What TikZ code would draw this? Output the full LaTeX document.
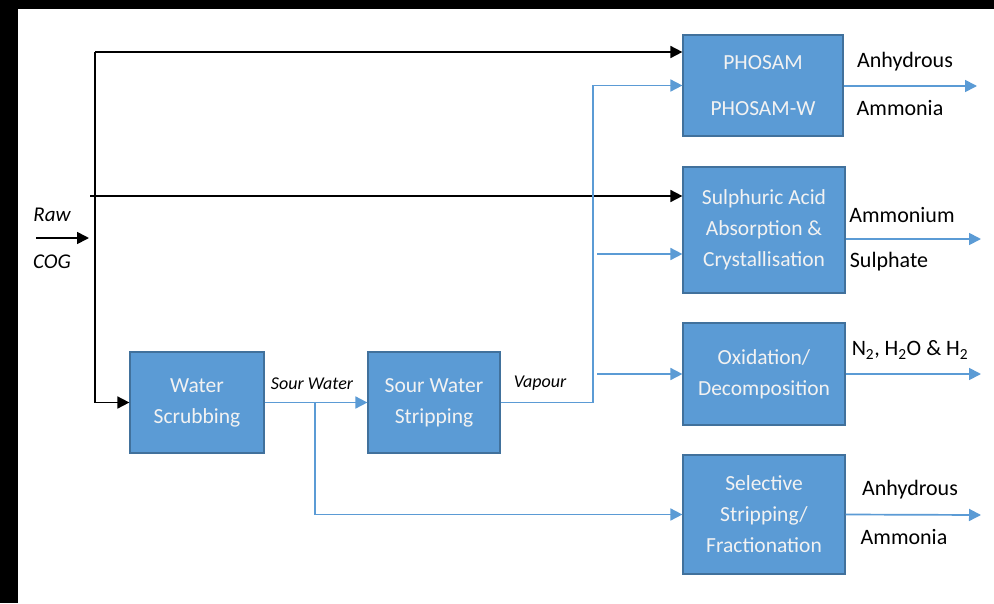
\documentclass[tikz,border=0pt]{standalone}
\usepackage{fontspec}
\setmainfont{Carlito}
\usetikzlibrary{arrows.meta}
\definecolor{boxfill}{HTML}{5B9BD5}
\definecolor{boxline}{HTML}{41719C}
\definecolor{boxtext}{HTML}{F2F2F2}
\definecolor{flow}{HTML}{5B9BD5}
\begin{document}
\begin{tikzpicture}[x=1pt,y=-1pt,
  proc/.style={draw=boxline,line width=1.2pt,fill=boxfill,text=boxtext,
    font=\fontsize{21.5}{31}\selectfont,align=center,inner sep=0pt,
    execute at begin node={\rule{0pt}{21pt}}},
  blk/.style={line width=1.7pt,draw=black,-{Triangle[length=12pt,width=12pt]}},
  bl/.style={line width=1.7pt,draw=flow,-{Triangle[length=12pt,width=12pt]}},
  lab/.style={font=\fontsize{22}{24}\selectfont,text=black,inner sep=0pt},
  ital/.style={font=\itshape\fontsize{21}{24}\selectfont,text=black,inner sep=0pt},
  itsm/.style={font=\itshape\fontsize{18}{20}\selectfont,text=black,inner sep=0pt}]
\fill[black] (0,0) rectangle (994,603);
\fill[white] (18,9) rectangle (994,603);
\useasboundingbox (0,0) rectangle (994,603);
% process boxes
\node[proc,minimum width=160pt,minimum height=101pt] (phosam) at (763,85.5) {PHOSAM\\[15pt]PHOSAM-W};
\node[proc,minimum width=162pt,minimum height=126pt] (sulph) at (764,230) {Sulphuric Acid\\Absorption \&\\Crystallisation};
\node[proc,minimum width=162pt,minimum height=102pt] (ox) at (764,374) {Oxidation/\\Decomposition};
\node[proc,minimum width=162pt,minimum height=119pt] (sel) at (764,514.5) {Selective\\Stripping/\\Fractionation};
\node[proc,minimum width=134pt,minimum height=101pt] (ws) at (197,402.5) {Water\\Scrubbing};
\node[proc,minimum width=132pt,minimum height=101pt] (sws) at (434,402.5) {Sour Water\\Stripping};
% helper coordinates
\coordinate (rawin) at (36,238);
\coordinate (rawend) at (89,238);
\coordinate (c1) at (95,52);
\coordinate (c2) at (90,196);
\coordinate (sw) at (315,402.5);
\coordinate (vx) at (593,402.5);
\coordinate (v2) at (597,254);
\coordinate (v3) at (597,374);
\coordinate (o1) at (977,86);
\coordinate (o2) at (981,239);
\coordinate (o3) at (981,374);
\coordinate (o4) at (981,515);
% black connectors
\draw[blk] (rawin) -- (rawend);
\draw[blk] (c1) |- (ws.west);
\draw[blk] (c1) -- (phosam.west |- c1);
\draw[blk] (c2) -- (sulph.west |- c2);
% blue connectors
\draw[bl] (ws.east) -- (sws.west);
\draw[bl] (sw) |- (sel.west);
\draw[bl] (sws.east) -- (vx) |- (phosam.west);
\draw[bl] (v2) -- (sulph.west |- v2);
\draw[bl] (v3) -- (ox.west);
% outputs
\draw[bl] (phosam.east |- o1) -- (o1);
\draw[bl] (sulph.east |- o2) -- (o2);
\draw[bl] (ox.east) -- (o3);
\draw[bl] (sel.east) -- (o4);
% labels
\node[ital] (raw) at (52,215) {Raw};
\node[ital] (cog) at (52,262) {COG};
\node[itsm] (swl) at (312,384) {Sour Water};
\node[itsm] (vap) at (540,383) {Vapour};
\node[lab] (l1) at (905,62) {Anhydrous};
\node[lab] (l2) at (900,108) {Ammonia};
\node[lab] (l3) at (902,215) {Ammonium};
\node[lab] (l4) at (889,262) {Sulphate};
\node[lab] (l5) at (910,350) {N\textsubscript{2}, H\textsubscript{2}O \& H\textsubscript{2}};
\node[lab] (l6) at (910,490) {Anhydrous};
\node[lab] (l7) at (904,537) {Ammonia};
\end{tikzpicture}
\end{document}
